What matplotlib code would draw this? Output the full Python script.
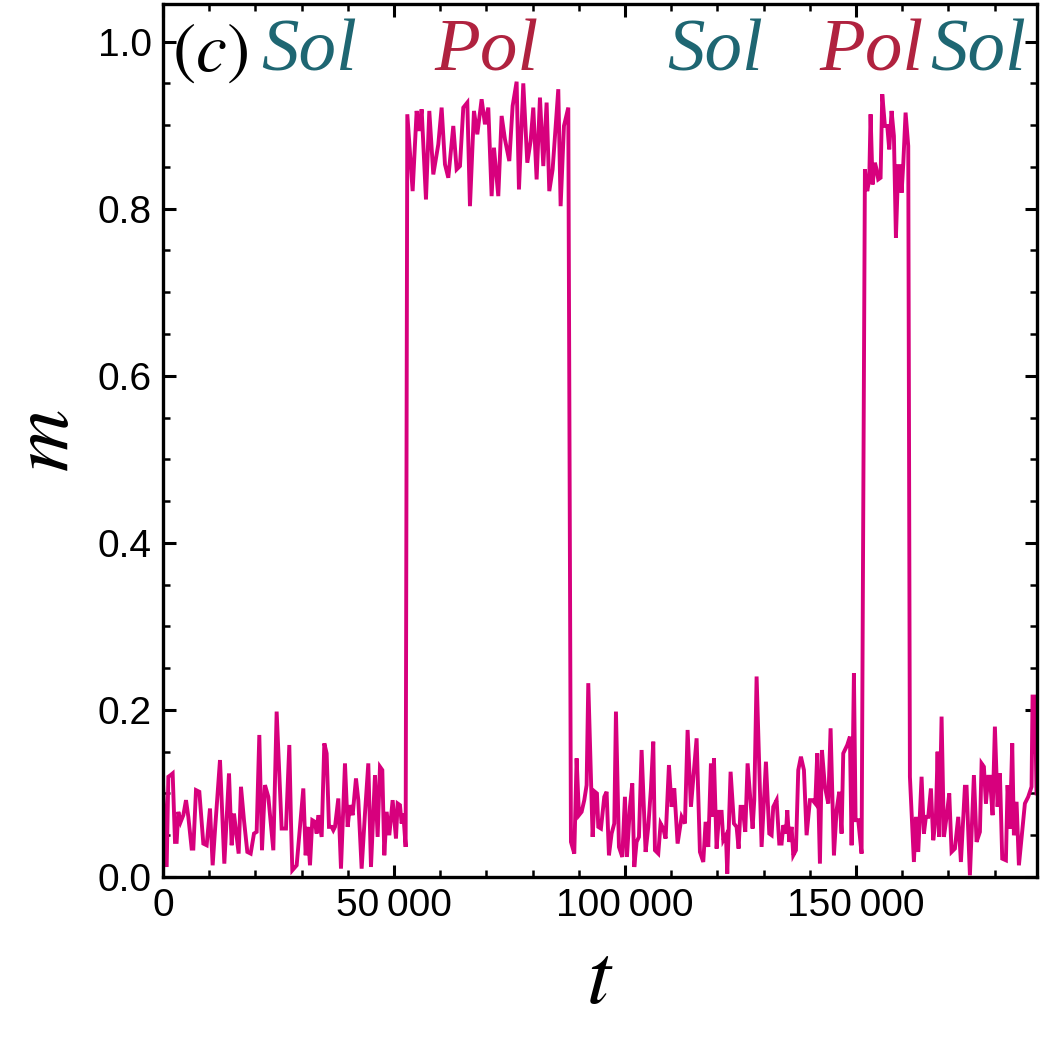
import numpy as np
import matplotlib
matplotlib.use("Agg")
import matplotlib.pyplot as plt
from matplotlib.ticker import MultipleLocator, FixedLocator

# magnetisation time series
sol1_t = [0, 794, 1155, 1660, 2092, 2597, 2958, 3319, 3824, 4401, 4978, 5483,
          6205, 6565, 7143, 7864, 8730, 9451, 10172, 10750, 11255, 12337,
          13275, 14285, 14862, 15367, 16377, 16882, 17531, 18253, 18974,
          19696, 20273, 20850, 21427, 22077, 22798, 23881, 24602, 25684,
          26622, 27343, 27706, 27994, 28933, 30375, 30880, 31313, 31818,
          32323, 32900, 33262, 33622, 34344, 34920, 35426, 35931, 36508,
          36869, 37229, 37951, 38528, 39394, 39971, 40476, 41054, 41775,
          42280, 43002, 43723, 44444, 45022, 45887, 46465, 46970, 47475,
          47908, 48413, 48990, 49712, 50433, 50794, 51298, 51659, 52020, 52525]
sol1_m = [0.112, 0.012, 0.120, 0.122, 0.124, 0.042, 0.042, 0.078, 0.066, 0.074,
          0.092, 0.072, 0.034, 0.034, 0.104, 0.102, 0.040, 0.038, 0.082, 0.014,
          0.056, 0.140, 0.016, 0.124, 0.038, 0.076, 0.028, 0.108, 0.068, 0.030,
          0.028, 0.052, 0.054, 0.170, 0.032, 0.110, 0.096, 0.032, 0.198, 0.058,
          0.058, 0.158, 0.066, 0.008, 0.014, 0.106, 0.026, 0.060, 0.014, 0.068,
          0.066, 0.052, 0.074, 0.048, 0.160, 0.148, 0.060, 0.060, 0.056, 0.060,
          0.094, 0.010, 0.136, 0.060, 0.086, 0.074, 0.118, 0.092, 0.010, 0.076,
          0.136, 0.012, 0.122, 0.048, 0.132, 0.128, 0.026, 0.078, 0.050, 0.092,
          0.046, 0.088, 0.086, 0.064, 0.076, 0.036]

pol1_t = [52886, 54040, 54906, 55483, 55988, 56926, 57648, 58513, 59596, 60317,
          61039, 61760, 62842, 63564, 64286, 65007, 65873, 66450, 67316, 68037,
          68975, 69697, 70418, 71140, 71645, 72583, 73305, 74026, 74964, 75686,
          76551, 77056, 77994, 78860, 79582, 80159, 80880, 81602, 82324, 83045,
          83622, 84344, 85570, 86076, 86797, 87735]
pol1_m = [0.913, 0.821, 0.917, 0.893, 0.919, 0.811, 0.917, 0.841, 0.877, 0.921,
          0.853, 0.837, 0.899, 0.847, 0.851, 0.921, 0.927, 0.803, 0.917, 0.889,
          0.931, 0.901, 0.921, 0.815, 0.873, 0.815, 0.911, 0.883, 0.857, 0.923,
          0.952, 0.823, 0.950, 0.855, 0.881, 0.921, 0.835, 0.933, 0.851, 0.927,
          0.821, 0.847, 0.943, 0.803, 0.899, 0.921]

sol2_t = [88312, 89032, 89537, 90043, 90620, 91197, 91702, 92063, 93001, 93506,
          93939, 94227, 94805, 95526, 96031, 96537, 97114, 97691, 98052, 98701,
          99423, 99999, 100432, 101082, 101587, 102020, 102525, 103030, 103607,
          104473, 105050, 105628, 106133, 106494, 107215, 107720, 108297,
          108802, 109524, 110101, 110678, 111400, 112266, 112987, 113564,
          114286, 115513, 116232, 116955, 117460, 118037, 118615, 119120,
          119264, 119841, 120419, 120924, 121285, 121862, 122150, 122872,
          123593, 124170, 124603, 125036, 125469, 126046, 126551, 127056,
          127633, 127994, 128500, 129582, 130519, 131241, 131746, 132107,
          132828, 133406, 133911, 134272, 134849, 135138, 135571, 136076,
          136437, 137014, 137519, 138096, 138750, 139323, 140045, 140622,
          141199, 141632, 142209, 142642, 143290, 144012, 144517, 145239,
          145816, 146393, 146898, 147259, 148125, 148702, 149063, 149568,
          149929, 150506, 151228]
sol2_m = [0.042, 0.028, 0.142, 0.074, 0.078, 0.092, 0.110, 0.232, 0.048, 0.102,
          0.100, 0.060, 0.058, 0.096, 0.102, 0.026, 0.052, 0.064, 0.198, 0.036,
          0.024, 0.096, 0.024, 0.084, 0.112, 0.012, 0.042, 0.048, 0.152, 0.030,
          0.060, 0.106, 0.162, 0.032, 0.028, 0.064, 0.058, 0.046, 0.134, 0.084,
          0.106, 0.040, 0.072, 0.064, 0.176, 0.084, 0.166, 0.030, 0.018, 0.066,
          0.036, 0.136, 0.072, 0.142, 0.034, 0.078, 0.078, 0.044, 0.050, 0.004,
          0.126, 0.064, 0.060, 0.034, 0.084, 0.084, 0.054, 0.136, 0.100, 0.058,
          0.092, 0.240, 0.036, 0.138, 0.052, 0.050, 0.084, 0.092, 0.040, 0.040,
          0.062, 0.052, 0.080, 0.042, 0.060, 0.026, 0.032, 0.128, 0.144, 0.128,
          0.050, 0.092, 0.092, 0.088, 0.148, 0.016, 0.152, 0.108, 0.088, 0.178,
          0.026, 0.080, 0.102, 0.052, 0.148, 0.158, 0.168, 0.038, 0.244, 0.068,
          0.068, 0.028]

pol2_t = [151948, 152452, 152885, 153174, 153607, 154113, 154474, 154834,
          155339, 155700, 156277, 156782, 157215, 157720, 158225, 158658,
          159163, 159524, 159885, 160246, 160751, 161328]
pol2_m = [0.847, 0.821, 0.835, 0.913, 0.829, 0.855, 0.847, 0.835, 0.837, 0.937,
          0.899, 0.899, 0.871, 0.917, 0.887, 0.765, 0.851, 0.851, 0.819, 0.853,
          0.915, 0.875]

sol3_t = [161688, 162554, 162987, 163492, 164214, 164718, 165151, 165656,
          166234, 166739, 167316, 167677, 168038, 168543, 169049, 169626,
          170203, 170708, 171429, 172151, 172728, 173593, 173954, 174676,
          175541, 176119, 176840, 177201, 177706, 178139, 178644, 179005,
          179582, 180086, 180664, 181169, 181674, 182468, 182829, 183333,
          183838, 184199, 184776, 185282, 186580, 187302, 188023, 188240,
          188745, 189100]
sol3_m = [0.120, 0.018, 0.072, 0.030, 0.120, 0.052, 0.072, 0.072, 0.106, 0.044,
          0.072, 0.150, 0.048, 0.192, 0.048, 0.072, 0.100, 0.030, 0.034, 0.072,
          0.018, 0.108, 0.108, 0.002, 0.122, 0.042, 0.054, 0.136, 0.132, 0.088,
          0.120, 0.120, 0.074, 0.180, 0.084, 0.124, 0.022, 0.020, 0.110, 0.058,
          0.160, 0.050, 0.090, 0.014, 0.088, 0.096, 0.108, 0.216, 0.216, 0.100]

x_ticks = [0, 50000, 100000, 150000]
x_tick_labels = ["0", "50\u2009000", "100\u2009000", "150\u2009000"]
y_ticks = [0.0, 0.2, 0.4, 0.6, 0.8, 1.0]
y_tick_labels = ["0.0", "0.2", "0.4", "0.6", "0.8", "1.0"]

phase_labels = ["Sol", "Pol", "Sol", "Pol", "Sol"]
phase_label_t = [21300, 58700, 109200, 142100, 166000]

t = np.array(sol1_t + pol1_t + sol2_t + pol2_t + sol3_t)
m = np.array(sol1_m + pol1_m + sol2_m + pol2_m + sol3_m)

LINE = "#d7007d"
TEAL = "#1e6672"
CRIMSON = "#b0223f"

plt.rcParams["mathtext.fontset"] = "stix"
tick_font = ["Liberation Sans", "DejaVu Sans"]

fig = plt.figure(figsize=(10.42, 10.38), dpi=100)
ax = fig.add_axes([163 / 1042, 1 - 877 / 1038, (1037 - 163) / 1042, (877 - 4) / 1038])

ax.plot(t, m, color=LINE, lw=2.8, solid_joinstyle="miter")

ax.set_xlim(0, 189200)
ax.set_ylim(0, 1.045)

ax.xaxis.set_major_locator(FixedLocator(x_ticks))
ax.xaxis.set_minor_locator(MultipleLocator(10000))
ax.yaxis.set_major_locator(FixedLocator(y_ticks))
ax.yaxis.set_minor_locator(MultipleLocator(0.05))
ax.set_xticklabels(x_tick_labels)
ax.set_yticklabels(y_tick_labels)

ax.tick_params(which="both", direction="in", top=True, right=True, color="black")
ax.tick_params(which="major", length=9, width=2.2, labelsize=28, pad=8)
ax.tick_params(which="minor", length=5, width=1.8)
for lab in ax.get_xticklabels() + ax.get_yticklabels():
    lab.set_family(tick_font)

for sp in ax.spines.values():
    sp.set_linewidth(2.4)
    sp.set_color("black")

ax.set_xlabel(r"$t$", fontsize=62, labelpad=10)
ax.set_ylabel(r"$m$", fontsize=62, labelpad=8)

ax.text(1900, 0.965, r"$(c)$", fontsize=50, color="black", ha="left", va="baseline")
for lab, tx in zip(phase_labels, phase_label_t):
    col = TEAL if lab == "Sol" else CRIMSON
    ax.text(tx, 0.965, lab, fontsize=54, color=col, family="Liberation Serif",
            style="italic", ha="left", va="baseline")

fig.savefig("out.png", dpi=100, facecolor="white")
